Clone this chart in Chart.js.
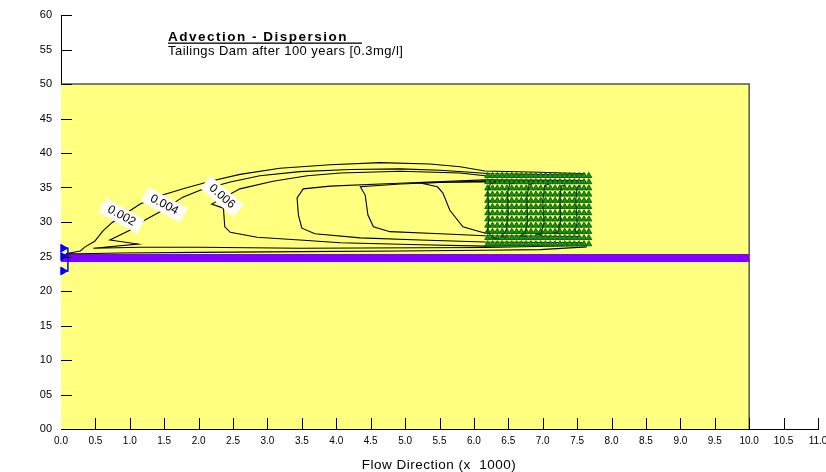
<!DOCTYPE html>
<html>
<head>
<meta charset="utf-8">
<script src="https://cdn.jsdelivr.net/npm/chart.js@4.4.0/dist/chart.umd.min.js"></script>
<style>
  body { margin: 0; background: #fff; }
</style>
</head>
<body>
<canvas id="plume" width="826" height="472"></canvas>
<script>
// model domain (yellow) and the river line
const domainX = [0, 10];
const domainY = [0, 50];
const riverX = [0, 10];
const riverY = [24.8, 24.8];

// contour lines, [x, y] pairs
// (each runs from its lower right end, round the left, to its upper right end)
const c002 = [[7.64,26.4],[6.96,26.0],[6.16,25.9],[4.93,25.8],[3.47,25.7],[2.02,25.6],[0.86,25.5],[0.28,25.4],[0.07,25.4],[0.28,25.8],[0.35,26.4],[0.49,27.2],[0.61,28.7],[0.74,29.9],[0.89,30.9],[1.15,32.6],[1.44,33.8],[1.8,34.9],[2.17,35.9],[2.6,36.9],[3.18,37.8],[3.91,38.3],[4.64,38.6],[5.36,38.4],[5.8,38.0],[6.16,37.4],[6.96,37.2],[7.62,37.0]];
const c004 = [[7.62,26.6],[6.16,26.3],[3.47,26.2],[2.02,26.35],[1.15,26.35],[0.47,26.2],[1.12,26.8],[0.71,27.4],[1.0,28.8],[1.22,30.3],[1.48,31.7],[1.77,33.6],[2.02,34.6],[2.46,35.8],[2.89,36.7],[3.47,37.3],[4.2,37.6],[4.93,37.7],[5.51,37.5],[5.95,37.2],[6.24,37.0],[7.6,36.8]];
const c006 = [[7.6,26.8],[6.16,26.5],[5.22,26.7],[4.06,27.0],[3.47,27.4],[2.85,27.8],[2.46,28.5],[2.38,29.3],[2.36,32.0],[2.19,32.6],[2.6,34.8],[3.08,35.9],[3.58,36.7],[4.06,37.1],[4.93,37.35],[5.8,37.1],[6.16,36.7],[7.6,36.5]];
const c008 = [[7.58,27.0],[6.16,27.1],[5.22,27.4],[4.35,27.7],[3.69,28.3],[3.5,29.1],[3.45,31.0],[3.43,33.5],[3.52,34.8],[3.91,35.2],[4.64,35.5],[5.36,35.8],[6.16,36.1],[7.58,36.0]];
const c010 = [[7.56,27.9],[6.16,28.0],[5.51,28.3],[4.78,28.6],[4.54,29.3],[4.46,31.0],[4.42,33.9],[4.35,35.1],[4.93,35.5],[5.65,35.8],[6.16,35.9],[7.56,35.8]];
const c012 = [[7.54,28.3],[6.16,28.4],[6.09,28.6],[5.84,29.3],[5.65,31.7],[5.55,34.2],[5.47,35.1],[5.22,35.65],[5.65,35.75],[6.16,35.8],[7.54,35.7]];
// inner contours inside the source area (left flanks only show)
const c014 = [[6.32,35.8],[6.24,35.6],[6.2,34.5],[6.22,31.0],[6.2,28.5],[6.28,27.7],[6.36,27.6]];
const c016 = [[6.58,35.7],[6.52,35.5],[6.49,34.2],[6.5,31.5],[6.47,28.8],[6.4,27.9],[6.48,27.8]];
const c018 = [[6.86,35.6],[6.8,35.4],[6.77,33.5],[6.78,30.0],[6.74,28.3],[6.68,28.0],[6.76,27.9]];
const c020 = [[7.1,35.5],[7.03,35.3],[7.0,33.0],[7.02,30.0],[6.98,28.4],[6.92,28.2],[7.0,28.1]];
const c022 = [[7.33,35.4],[7.27,35.2],[7.25,33.5],[7.26,30.0],[7.22,28.6],[7.17,28.4],[7.25,28.3]];
const c024 = [[7.55,35.3],[7.5,35.1],[7.48,33.0],[7.5,30.0],[7.47,28.6],[7.52,28.5]];
const outerContours = [c002, c004, c006, c008, c010, c012];
const innerContours = [c014, c016, c018, c020, c022, c024];

// contour labels
const labelText = ['0.002', '0.004', '0.006'];
const labelX = [0.88, 1.5, 2.34];
const labelY = [30.9, 32.5, 33.7];

// source cells (green triangles): columns and rows
const cellX = [6.2,6.27,6.34,6.41,6.48,6.55,6.62,6.69,6.76,6.83,6.9,6.97,7.04,7.11,7.18,7.25,7.32,7.39,7.46,7.53,7.6,7.67];
const cellY = [26.8,27.7,28.6,29.5,30.4,31.3,32.2,33.1,34.0,34.9,35.8,36.7];

// well markers on the left boundary
const wellX = [0.03, 0.03, 0.03];
const wellY = [26.2, 25.0, 22.9];
const bracketX = [0, 0.1, 0.1, 0];
const bracketY = [26.2, 26.2, 22.9, 22.9];

const toPts = arr => arr.map(p => ({x: p[0], y: p[1]}));
const zipPts = (xs, ys) => xs.map((x, i) => ({x: x, y: ys[i]}));

const cells = [];
cellY.forEach(y => cellX.forEach(x => cells.push({x: x, y: y})));

Chart.defaults.font.family = "'Liberation Sans', Arial, sans-serif";

const datasets = [];
datasets.push({data: zipPts(wellX, wellY), showLine: false, pointStyle: 'triangle', rotation: 90, pointRadius: 4.5,
  backgroundColor: '#0000ff', borderColor: '#0000ff', clip: false, order: 0});
datasets.push({data: zipPts(bracketX, bracketY), showLine: true, pointRadius: 0, borderColor: '#0000ff', borderWidth: 1.5, clip: false, order: 0});
innerContours.forEach(c => {
  datasets.push({data: toPts(c), showLine: true, pointRadius: 0, borderColor: '#0a3a0a', borderWidth: 1.1, order: 0});
});
datasets.push({data: cells, showLine: false, pointStyle: 'triangle', pointRadius: 3.4,
  backgroundColor: '#1f8f1f', borderColor: '#0b6b0b', borderWidth: 1, order: 1});
outerContours.forEach(c => {
  datasets.push({data: toPts(c), showLine: true, pointRadius: 0, borderColor: '#000', borderWidth: 1.1, order: 2});
});
datasets.push({data: zipPts(riverX, riverY), showLine: true, pointRadius: 0, borderColor: '#8000ff', borderWidth: 8, borderCapStyle: 'butt', order: 3});

const decor = {
  id: 'decor',
  beforeDatasetsDraw(chart) {
    const {ctx, scales: {x, y}} = chart;
    const x0 = x.getPixelForValue(domainX[0]), x1 = x.getPixelForValue(domainX[1]);
    const y0 = y.getPixelForValue(domainY[0]), y1 = y.getPixelForValue(domainY[1]);
    ctx.save();
    ctx.fillStyle = '#ffff80';
    ctx.fillRect(x0, y1, x1 - x0, y0 - y1);
    ctx.strokeStyle = '#555';
    ctx.lineWidth = 1.5;
    ctx.beginPath();
    ctx.moveTo(x0, y1); ctx.lineTo(x1, y1); ctx.lineTo(x1, y0);
    ctx.stroke();
    ctx.restore();
  },
  afterDatasetsDraw(chart) {
    const {ctx, scales: {x, y}} = chart;
    const angles = [29, 28, 41];
    ctx.save();
    labelText.forEach((t, i) => {
      ctx.save();
      ctx.translate(x.getPixelForValue(labelX[i]), y.getPixelForValue(labelY[i]));
      ctx.rotate(angles[i] * Math.PI / 180);
      ctx.fillStyle = '#fff';
      ctx.fillRect(-22, -8, 44, 16);
      ctx.fillStyle = '#000';
      ctx.font = "12px 'Liberation Sans'";
      ctx.textAlign = 'center';
      ctx.textBaseline = 'middle';
      ctx.fillText(t, 0, 0);
      ctx.restore();
    });
    ctx.restore();
  },
  afterDraw(chart) {
    const {ctx, scales: {x, y}, chartArea: a} = chart;
    ctx.save();
    // inward tick marks
    ctx.strokeStyle = '#000';
    ctx.lineWidth = 1;
    ctx.beginPath();
    x.ticks.forEach(t => {
      if (t.value === 0) return;
      const px = Math.round(x.getPixelForValue(t.value)) + 0.5;
      ctx.moveTo(px, a.bottom); ctx.lineTo(px, a.bottom - 11);
    });
    y.ticks.forEach(t => {
      if (t.value === 0) return;
      const py = Math.round(y.getPixelForValue(t.value)) + 0.5;
      ctx.moveTo(a.left, py); ctx.lineTo(a.left + 11, py);
    });
    ctx.stroke();

    // titles
    ctx.fillStyle = '#000';
    ctx.textBaseline = 'alphabetic';
    ctx.letterSpacing = '1.5px';
    ctx.font = "bold 13.5px 'Liberation Sans'";
    ctx.fillText('Advection - Dispersion', 168, 41);
    ctx.fillRect(168, 42.5, 194, 1.3);
    ctx.letterSpacing = '0.45px';
    ctx.font = "13px 'Liberation Sans'";
    ctx.fillText('Tailings Dam after 100 years [0.3mg/l]', 168, 55);
    ctx.letterSpacing = '0.5px';
    ctx.font = "13.5px 'Liberation Sans'";
    ctx.textAlign = 'center';
    ctx.fillText('Flow Direction (x  1000)', 439, 469);
    ctx.restore();
  }
};

new Chart(document.getElementById('plume'), {
  type: 'scatter',
  data: {datasets: datasets},
  options: {
    responsive: false,
    animation: false,
    layout: {padding: {left: 0, right: 8, top: 15, bottom: 0}},
    plugins: {legend: {display: false}, tooltip: {enabled: false}},
    elements: {line: {tension: 0}},
    scales: {
      x: {
        type: 'linear', min: 0, max: 11,
        afterFit: s => { s.height = 43; s.paddingLeft = 0; s.paddingRight = 0; },
        ticks: {stepSize: 0.5, autoSkip: false, maxRotation: 0, padding: 6, color: '#000',
          font: {family: "'Liberation Sans Narrow', 'Liberation Sans'", size: 10},
          callback: v => v.toFixed(1)},
        grid: {display: true, drawOnChartArea: false, drawTicks: false},
        border: {display: true, color: '#000', width: 1}
      },
      y: {
        type: 'linear', min: 0, max: 60,
        afterFit: s => { s.width = 61; s.paddingTop = 0; s.paddingBottom = 0; },
        ticks: {stepSize: 5, padding: 9, color: '#000', font: {size: 11},
          callback: v => String(v).padStart(2, '0')},
        grid: {display: true, drawOnChartArea: false, drawTicks: false},
        border: {display: true, color: '#000', width: 1}
      }
    }
  },
  plugins: [decor]
});
</script>
</body>
</html>
